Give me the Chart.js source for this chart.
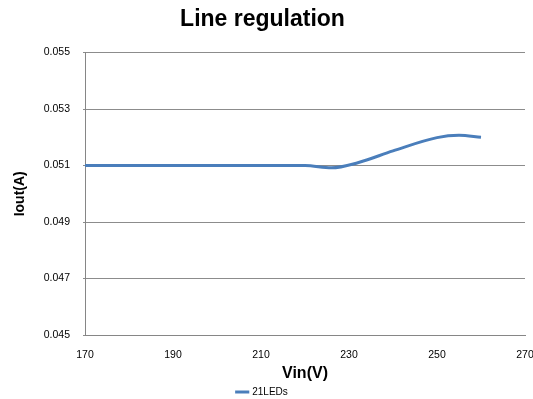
<!DOCTYPE html>
<html>
<head>
<meta charset="utf-8">
<script src="https://cdn.jsdelivr.net/npm/chart.js@4/dist/chart.umd.min.js"></script>
<style>
  html, body { margin: 0; padding: 0; background: #fff; }
  #wrap { width: 533px; height: 399px; }
</style>
</head>
<body>
<div id="wrap"><canvas id="c" width="533" height="399"></canvas></div>
<script>
const vin = [170, 180, 190, 200, 210, 220, 226, 232, 240, 250, 255, 260];
const iout = [0.051, 0.051, 0.051, 0.051, 0.051, 0.051, 0.05092, 0.0511, 0.05152, 0.05199, 0.05207, 0.0520];
const seriesName = "21LEDs";

const xTicks = { min: 170, max: 270, step: 20 };
const yTicks = { min: 0.045, max: 0.055, step: 0.002 };

Chart.defaults.font.family = "'Liberation Sans', 'Open Sans', sans-serif";
Chart.defaults.color = "#000";

const ctx = document.getElementById("c").getContext("2d");
new Chart(ctx, {
  type: "line",
  data: {
    datasets: [{
      label: seriesName,
      data: vin.map((x, i) => ({ x: x, y: iout[i] })),
      borderColor: "#4a7ebb",
      backgroundColor: "#4a7ebb",
      borderWidth: 3,
      pointRadius: 0,
      tension: 0.4,
      cubicInterpolationMode: "monotone",
      fill: false,
    }],
  },
  options: {
    responsive: false,
    animation: false,
    layout: { padding: { left: 0, right: 8, top: 0, bottom: -8 } },
    scales: {
      x: {
        type: "linear",
        min: xTicks.min,
        max: xTicks.max,
        ticks: { stepSize: xTicks.step, font: { size: 10.5 }, padding: 14 },
        grid: { display: false, drawTicks: false },
        border: { display: true, color: "#868686", width: 1 },
        title: { display: true, text: "Vin(V)", font: { size: 16, weight: "bold" }, padding: { top: 0, bottom: 0 } },
        afterFit: (scale) => {
          scale.height = 48;
          scale.paddingRight = 0;
        },
      },
      y: {
        min: yTicks.min,
        max: yTicks.max,
        ticks: {
          stepSize: yTicks.step,
          font: { size: 10.5 },
          padding: 13,
          callback: (v) => v.toFixed(3),
        },
        grid: { color: "#8c8c8c", drawTicks: true, tickLength: 2 },
        border: { display: true, color: "#868686", width: 1 },
        title: { display: true, text: "Iout(A)", font: { size: 14, weight: "bold" }, padding: { top: 12, bottom: 4 } },
        afterFit: (scale) => { scale.width = 85; },
      },
    },
    plugins: {
      title: {
        display: true,
        text: "Line regulation",
        font: { size: 23, weight: "bold" },
        padding: { top: 6, bottom: 19 },
      },
      legend: {
        position: "bottom",
        labels: {
          usePointStyle: true,
          pointStyle: "line",
          boxWidth: 30,
          font: { size: 10 },
          padding: 4,
        },
      },
      tooltip: { enabled: false },
    },
  },
});
</script>
</body>
</html>
